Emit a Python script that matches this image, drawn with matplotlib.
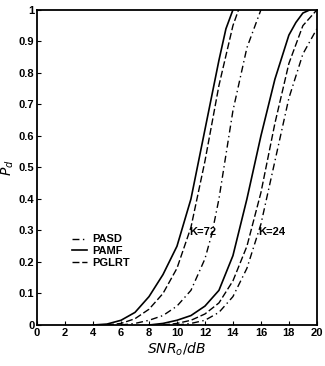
import matplotlib
matplotlib.use("Agg")
import matplotlib.pyplot as plt

# ── data ──────────────────────────────────────────────────────────────────
snr_amf_72 = [4, 5, 6, 7, 8, 9, 10, 11, 12, 13, 13.5, 14]
pd_amf_72 = [0, 0.003, 0.015, 0.04, 0.09, 0.16, 0.25, 0.40, 0.62, 0.84, 0.94, 1.0]

snr_glrt_72 = [5, 6, 7, 8, 9, 10, 11, 12, 13, 14, 14.4]
pd_glrt_72 = [0, 0.005, 0.02, 0.05, 0.10, 0.18, 0.31, 0.52, 0.76, 0.95, 1.0]

snr_asd_72 = [6, 7, 8, 9, 10, 11, 12, 12.5, 13, 14, 15, 16]
pd_asd_72 = [0, 0.005, 0.015, 0.03, 0.06, 0.11, 0.21, 0.29, 0.40, 0.68, 0.88, 1.0]

snr_amf_24 = [8, 9, 10, 11, 12, 13, 14, 15, 16, 17, 18, 18.5, 19, 19.5]
pd_amf_24 = [0, 0.005, 0.015, 0.03, 0.06, 0.11, 0.22, 0.40, 0.60, 0.78, 0.92, 0.96, 0.99, 1.0]

snr_glrt_24 = [9, 10, 11, 12, 13, 14, 15, 16, 17, 18, 19, 20]
pd_glrt_24 = [0, 0.005, 0.015, 0.035, 0.07, 0.14, 0.25, 0.42, 0.64, 0.83, 0.95, 1.0]

snr_asd_24 = [10, 11, 12, 13, 14, 15, 16, 17, 18, 19, 20]
pd_asd_24 = [0, 0.005, 0.015, 0.04, 0.09, 0.18, 0.32, 0.52, 0.72, 0.86, 0.94]

xticks = list(range(0, 21, 2))
yticks = [0, 0.1, 0.2, 0.3, 0.4, 0.5, 0.6, 0.7, 0.8, 0.9, 1]
ytick_labels = ["0", "0.1", "0.2", "0.3", "0.4", "0.5", "0.6", "0.7", "0.8", "0.9", "1"]

plt.rcParams["font.family"] = ["Liberation Sans", "DejaVu Sans"]

fig = plt.figure(figsize=(3.25, 3.66), dpi=100)
ax = fig.add_axes([0.114, 0.112, 0.861, 0.861])

dashdot = (0, (5, 2.5, 1, 2.5))
dashed = (0, (5, 2))

ax.plot(snr_asd_72, pd_asd_72, color="black", lw=1.0, linestyle=dashdot, label="PASD")
ax.plot(snr_amf_72, pd_amf_72, color="black", lw=1.2, linestyle="-", label="PAMF")
ax.plot(snr_glrt_72, pd_glrt_72, color="black", lw=1.0, linestyle=dashed, label="PGLRT")

ax.plot(snr_asd_24, pd_asd_24, color="black", lw=1.0, linestyle=dashdot)
ax.plot(snr_amf_24, pd_amf_24, color="black", lw=1.2, linestyle="-")
ax.plot(snr_glrt_24, pd_glrt_24, color="black", lw=1.0, linestyle=dashed)

ax.text(10.9, 0.295, "K=72", fontsize=8, fontweight="bold", ha="left", va="center")
ax.text(15.8, 0.295, "K=24", fontsize=8, fontweight="bold", ha="left", va="center")

ax.set_xlim(0, 20)
ax.set_ylim(0, 1)
ax.set_xticks(xticks)
ax.set_yticks(yticks)
ax.set_yticklabels(ytick_labels)
ax.tick_params(direction="in", length=3, width=0.8, labelsize=8, pad=2)
for lab in ax.get_xticklabels() + ax.get_yticklabels():
    lab.set_fontweight("bold")
for sp in ax.spines.values():
    sp.set_linewidth(1.3)

ax.set_xlabel(r"$\mathit{SNR_o/dB}$", fontsize=10, labelpad=2)
ax.set_ylabel(r"$P_d$", fontsize=10, labelpad=2)

ax.legend(loc="lower left", bbox_to_anchor=(0.09, 0.15), frameon=False,
          handlelength=1.3, handletextpad=0.5, labelspacing=0.15,
          prop={"size": 8, "weight": "bold"})

fig.savefig("out.png", dpi=100)
